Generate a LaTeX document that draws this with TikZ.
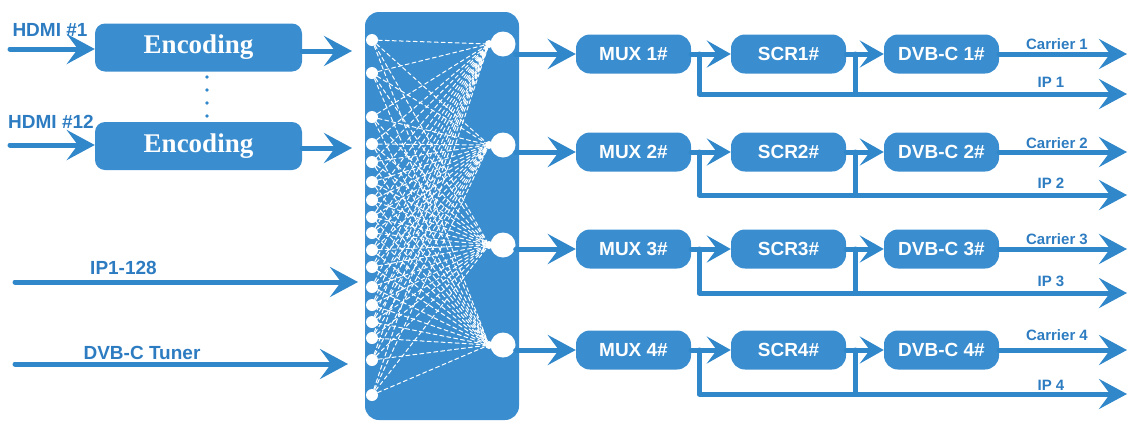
\documentclass[tikz,border=0pt]{standalone}
\usepackage{fontspec}
\setmainfont{Liberation Serif}
\setsansfont{Liberation Sans}
\usetikzlibrary{arrows.meta,positioning}
\definecolor{boxblue}{HTML}{3A8DCE}
\definecolor{wire}{HTML}{3088CB}
\definecolor{labelblue}{HTML}{2D7CC1}

\begin{document}
\begin{tikzpicture}[
  x=1pt, y=-1pt,
  line cap=round, line join=round,
  every node/.style={inner sep=0pt},
  sig/.style={draw=wire, line width=5pt},
  bigtip/.style={-{Stealth[length=28pt,width=30pt,inset=11pt]}},
  smalltip/.style={-{Stealth[length=24pt,width=27pt,inset=10pt]}},
  encbox/.style={rectangle, rounded corners=10pt, fill=boxblue, text=white,
    minimum width=207pt, minimum height=48pt, font=\bfseries\fontsize{27}{29}\selectfont},
  stage/.style={rectangle, rounded corners=14pt, fill=boxblue, text=white,
    minimum width=115pt, minimum height=39pt, font=\sffamily\bfseries\fontsize{19}{21}\selectfont},
  side/.style={text=labelblue, font=\sffamily\bfseries\fontsize{19}{21}\selectfont},
  outlbl/.style={text=labelblue, font=\sffamily\bfseries\fontsize{15}{17}\selectfont},
  switchbox/.style={rectangle, rounded corners=14pt, fill=boxblue,
    minimum width=154pt, minimum height=408pt},
  port/.style={circle, fill=white, minimum size=12pt},
  outport/.style={circle, fill=white, minimum size=25pt},
  tap/.style={circle, fill=white, minimum size=8pt},
  mesh/.style={draw=white, line width=1pt, dash pattern=on 4pt off 3pt},
]
\useasboundingbox (0,0) rectangle (1128,421);

% inputs
\node[encbox] (enc1) at (198.5,47.5) {Encoding};
\node[encbox] (enc12) at (198.5,146) {Encoding};
\node[side] (hdmi1) at (50,30) {HDMI \#1};
\node[side] (hdmi12) at (51,122) {HDMI \#12};
\coordinate (src1) at (10,49);
\coordinate (src12) at (10,145);
\coordinate (mx1) at (352,51);
\coordinate (mx12) at (352,148);
\draw[sig, bigtip] (src1) -- (src1 -| enc1.west);
\draw[sig, bigtip] (src12) -- (src12 -| enc12.west);
\draw[sig, bigtip] (enc1.east |- mx1) -- (mx1);
\draw[sig, bigtip] (enc12.east |- mx12) -- (mx12);
\foreach \y in {77,90,103,116}
  \fill[wire] (207,\y) circle (1.8pt);

\node[side] (iplbl) at (123.5,268) {IP1-128};
\coordinate (ipsrc) at (15,282);
\coordinate (ipdst) at (358,282);
\draw[sig, bigtip] (ipsrc) -- (ipdst);
\node[side] (tunerlbl) at (142,353) {DVB-C Tuner};
\coordinate (tunersrc) at (15,364);
\coordinate (tunerdst) at (348,364);
\draw[sig, bigtip] (tunersrc) -- (tunerdst);

% switching matrix
\node[switchbox] (mat) at (442,216) {};
\foreach \y [count=\i] in {40,73,117,144,162,182,200,217,233,250,267,287,305,322,338,360,395}
  \node[port] (in\i) at (372,\y) {};
\foreach \y [count=\j] in {44,145,245,345} {
  \node[outport] (out\j) at (503,\y) {};
  \node[tap] (tap\j) at (489,\y) {};
}
\foreach \i in {1,...,17}
  \foreach \j in {1,...,4}
    \draw[mesh] (in\i) -- (tap\j);

% output chains
\foreach \j/\ry/\by/\cy/\iy in {1/54/94/44/82, 2/152/195/143/183, 3/249/293/239/281, 4/350/394/335/385} {
  \node[stage] (mux\j) at (633.5,\ry) {MUX \j\#};
  \node[stage] (scr\j) at (788.5,\ry) {SCR\j\#};
  \node[stage] (dvb\j) at (941.5,\ry) {DVB-C \j\#};
  \coordinate (car\j) at (1127,\ry);
  \coordinate (ip\j) at (1127,\by);
  \draw[sig, bigtip] (out\j.east |- mux\j.west) -- (mux\j.west);
  \draw[sig, smalltip] (mux\j) -- (scr\j);
  \draw[sig, smalltip] (scr\j) -- (dvb\j);
  \draw[sig, bigtip] (dvb\j) -- (car\j);
  \draw[sig, bigtip] ([xshift=8pt]mux\j.east) |- (ip\j);
  \draw[sig] ([xshift=9pt]scr\j.east) -- ([xshift=9pt]scr\j.east |- ip\j);
  \node[outlbl] (cl\j) at (1057,\cy) {Carrier \j};
  \node[outlbl] (il\j) at (1051,\iy) {IP \j};
}
\end{tikzpicture}
\end{document}
